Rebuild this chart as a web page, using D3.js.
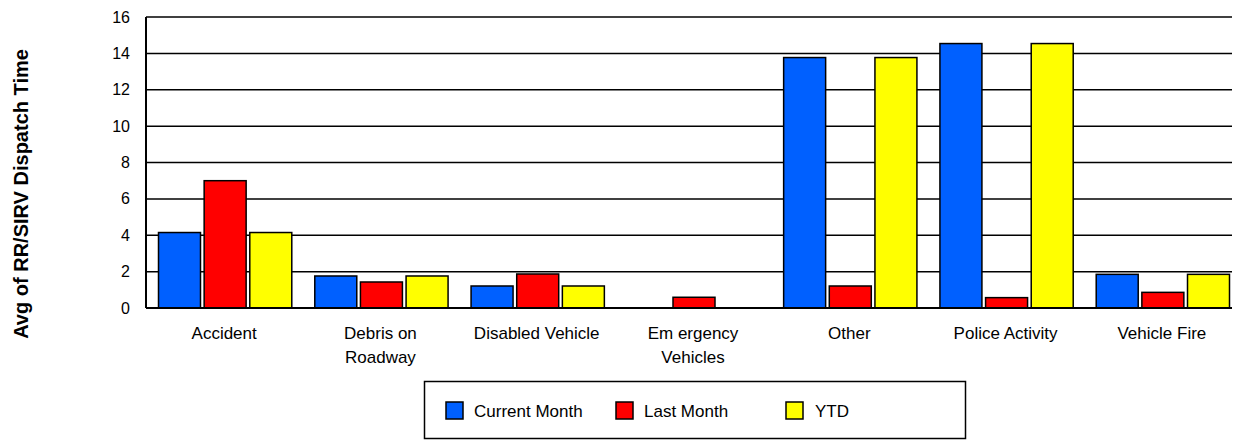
<!DOCTYPE html>
<html>
<head>
<meta charset="utf-8">
<script src="https://cdn.jsdelivr.net/npm/d3@7"></script>
<style>
  body { margin: 0; background: #fff; }
  svg text { font-family: "Liberation Sans", Arial, sans-serif; fill: #000; }
</style>
</head>
<body>
<div id="chart"></div>
<script>
// chart data
var categories = ["Accident", "Debris on\nRoadway", "Disabled Vehicle", "Em ergency\nVehicles",
                  "Other", "Police Activity", "Vehicle Fire"];
var seriesNames = ["Current Month", "Last Month", "YTD"];
var currentMonth = [4.15, 1.76, 1.21, 0, 13.77, 14.54, 1.85];
var lastMonth    = [7.0, 1.43, 1.87, 0.59, 1.21, 0.57, 0.86];
var ytd          = [4.15, 1.76, 1.21, 0, 13.77, 14.54, 1.85];
var yTicks = [0, 2, 4, 6, 8, 10, 12, 14, 16];

var colors = ["#0060ff", "#ff0000", "#ffff00"];
var seriesValues = [currentMonth, lastMonth, ytd];

var W = 1235, H = 441;
var margin = {top: 17, right: 3, bottom: 133, left: 146};

var svg = d3.select("#chart").append("svg")
    .attr("width", W)
    .attr("height", H);

// the plot area runs slightly past the picture's right edge
var x = d3.scaleBand()
    .domain(categories)
    .range([margin.left, 1240]);

var xs = d3.scaleBand()
    .domain(seriesNames)
    .range([12.5, x.bandwidth() - 10.5])
    .paddingInner(0.08);

var y = d3.scaleLinear()
    .domain([0, 16])
    .range([H - margin.bottom, margin.top]);

// gridlines
svg.append("g")
    .selectAll("line")
    .data(yTicks.slice(1))
    .enter().append("line")
    .attr("x1", margin.left)
    .attr("x2", W - margin.right)
    .attr("y1", function(d) { return y(d); })
    .attr("y2", function(d) { return y(d); })
    .attr("stroke", "#000")
    .attr("stroke-width", 1.5);

// y tick labels
svg.append("g")
    .selectAll("text")
    .data(yTicks)
    .enter().append("text")
    .attr("x", margin.left - 16)
    .attr("y", function(d) { return y(d); })
    .attr("dy", "0.35em")
    .attr("text-anchor", "end")
    .style("font-size", "16px")
    .text(function(d) { return d; });

// bars
var rows = [];
categories.forEach(function(c, i) {
  seriesNames.forEach(function(s, j) {
    rows.push({cat: c, series: s, value: seriesValues[j][i], color: colors[j]});
  });
});

svg.append("g")
    .selectAll("rect")
    .data(rows.filter(function(d) { return d.value > 0; }))
    .enter().append("rect")
    .attr("x", function(d) { return x(d.cat) + xs(d.series); })
    .attr("y", function(d) { return y(d.value); })
    .attr("width", xs.bandwidth())
    .attr("height", function(d) { return y(0) - y(d.value); })
    .attr("fill", function(d) { return d.color; })
    .attr("stroke", "#000")
    .attr("stroke-width", 1.5);

// axes lines
svg.append("line")
    .attr("x1", margin.left).attr("x2", margin.left)
    .attr("y1", y(16)).attr("y2", y(0))
    .attr("stroke", "#000").attr("stroke-width", 2);
svg.append("line")
    .attr("x1", margin.left).attr("x2", W - margin.right)
    .attr("y1", y(0)).attr("y2", y(0))
    .attr("stroke", "#000").attr("stroke-width", 2);

// category labels
var xl = svg.append("g")
    .selectAll("text")
    .data(categories)
    .enter().append("text")
    .attr("text-anchor", "middle")
    .style("font-size", "17px")
    .attr("transform", function(d) { return "translate(" + (x(d) + x.bandwidth() / 2) + ",339)"; });

xl.selectAll("tspan")
    .data(function(d) { return d.split("\n"); })
    .enter().append("tspan")
    .attr("x", 0)
    .attr("y", function(d, i) { return i * 24; })
    .text(function(d) { return d; });

// y axis title
svg.append("text")
    .attr("transform", "translate(28,194) rotate(-90)")
    .attr("text-anchor", "middle")
    .style("font-size", "20px")
    .style("font-weight", "bold")
    .text("Avg of RR/SIRV Dispatch Time");

// legend
var legend = svg.append("g");
legend.append("rect")
    .attr("x", 424.5).attr("y", 381.5)
    .attr("width", 541).attr("height", 57)
    .attr("fill", "#fff")
    .attr("stroke", "#000")
    .attr("stroke-width", 1.5);

var legendX = [446, 616, 786];
var item = legend.selectAll("g.item")
    .data(seriesNames)
    .enter().append("g")
    .attr("class", "item")
    .attr("transform", function(d, i) { return "translate(" + legendX[i] + ",402)"; });

item.append("rect")
    .attr("width", 17).attr("height", 17)
    .attr("fill", function(d, i) { return colors[i]; })
    .attr("stroke", "#000")
    .attr("stroke-width", 1.5);

item.append("text")
    .attr("x", function(d, i) { return i === 2 ? 29 : 28; })
    .attr("y", 9)
    .attr("dy", "0.35em")
    .style("font-size", "17px")
    .text(function(d) { return d; });
</script>
</body>
</html>
